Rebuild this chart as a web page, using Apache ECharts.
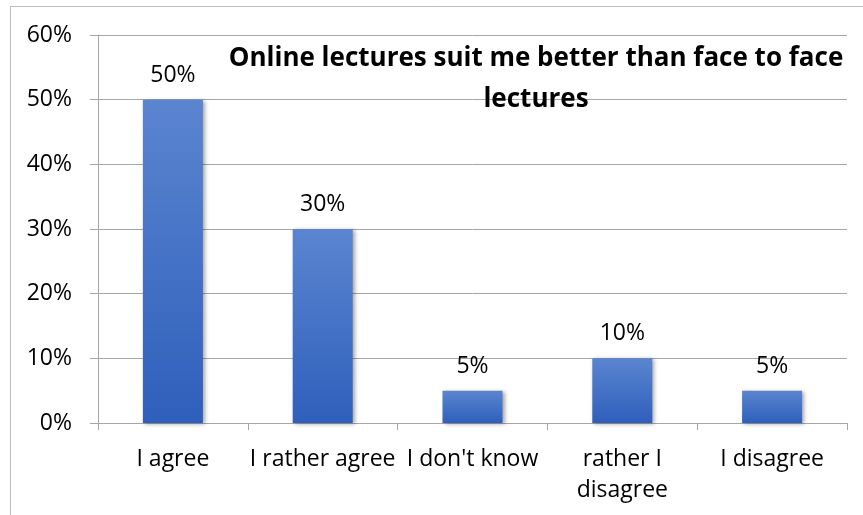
<!DOCTYPE html>
<html>
<head>
<meta charset="utf-8">
<script src="https://cdn.jsdelivr.net/npm/echarts@6/dist/echarts.min.js"></script>
<style>
  html, body { margin: 0; padding: 0; background: #fff; }
  #chart { width: 863px; height: 515px; }
</style>
</head>
<body>
<div id="chart"></div>
<script>
// 数据
const categories = ["I agree", "I rather agree", "I don't know", "rather I\ndisagree", "I disagree"];
const values = [50, 30, 5, 10, 5];
const yTicks = [0, 10, 20, 30, 40, 50, 60];
const chartTitle = "Online lectures suit me better than face to face\nlectures";

const font = "'Open Sans', Lato, sans-serif";
const gray = "#a6a6a6";

let chart = echarts.init(document.getElementById("chart"));
let option = {
  animation: false,
  title: {
    text: chartTitle,
    left: 531,
    top: 33,
    textAlign: "center",
    textStyle: {
      fontFamily: font,
      fontSize: 26,
      fontWeight: "bold",
      color: "#000",
      lineHeight: 41,
      align: "center"
    }
  },
  graphic: [
    {
      type: "rect",
      shape: { x: 10.5, y: 6.5, width: 900, height: 600 },
      style: { fill: "none", stroke: "#bdbdbd", lineWidth: 1 },
      silent: true,
      z: -1
    }
  ],
  grid: { left: 98, right: 16, top: 35, bottom: 92 },
  xAxis: {
    type: "category",
    data: categories,
    axisLine: { lineStyle: { color: gray } },
    axisTick: { show: true, length: 7, lineStyle: { color: gray } },
    axisLabel: {
      interval: 0,
      margin: 21,
      fontFamily: font,
      fontSize: 23,
      color: "#000",
      lineHeight: 31
    }
  },
  yAxis: {
    type: "value",
    min: yTicks[0],
    max: yTicks[yTicks.length - 1],
    interval: 10,
    axisLine: { show: true, lineStyle: { color: gray } },
    axisTick: { show: true, length: 8, lineStyle: { color: gray } },
    splitLine: { lineStyle: { color: gray } },
    axisLabel: {
      margin: 26,
      fontFamily: font,
      fontSize: 23,
      color: "#000",
      formatter: "{value}%"
    }
  },
  series: [
    {
      type: "bar",
      data: values,
      barWidth: 60,
      itemStyle: {
        color: new echarts.graphic.LinearGradient(0, 0, 0, 1, [
          { offset: 0, color: "#5b85d0" },
          { offset: 1, color: "#2e5fbb" }
        ]),
        shadowColor: "rgba(0,0,0,0.35)",
        shadowBlur: 4,
        shadowOffsetX: 2,
        shadowOffsetY: 1
      },
      label: {
        show: true,
        position: "top",
        distance: 13,
        fontFamily: font,
        fontSize: 23,
        color: "#000",
        formatter: "{c}%"
      }
    }
  ]
};
chart.setOption(option);
</script>
</body>
</html>
